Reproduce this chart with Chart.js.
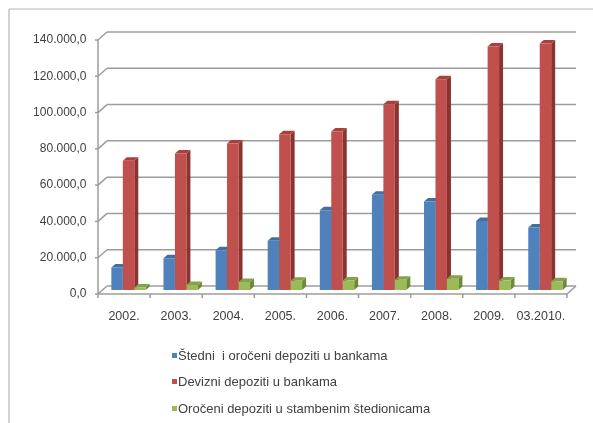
<!DOCTYPE html>
<html>
<head>
<meta charset="utf-8">
<script src="https://cdn.jsdelivr.net/npm/chart.js@4"></script>
<style>
  body { margin: 0; background: #fff; }
  #wrap { position: relative; width: 593px; height: 423px; }
  #legend { position: absolute; left: 172px; top: 343px; font: 13px "Liberation Sans", Arial, sans-serif; color: #404040; }
  #legend div { height: 26.3px; line-height: 26px; white-space: pre; }
  #legend span.sq { display: inline-block; width: 5px; height: 5px; margin-right: 1px; vertical-align: middle; position: relative; top: -1px; }
</style>
</head>
<body>
<div id="wrap">
  <canvas id="myChart" width="593" height="423"></canvas>
  <div id="legend"></div>
</div>
<script>
const categories = ["2002.", "2003.", "2004.", "2005.", "2006.", "2007.", "2008.", "2009.", "03.2010."];
const seriesNames = ["Štedni  i oročeni depoziti u bankama", "Devizni depoziti u bankama", "Oročeni depoziti u stambenim štedionicama"];
const stedni = [12400, 17500, 21900, 27100, 44000, 52500, 48800, 38100, 34400];
const devizni = [71200, 75200, 80800, 85900, 87400, 102400, 116200, 134200, 135900];
const stambeni = [1400, 2700, 4400, 5100, 5300, 5700, 6200, 5300, 4800];
const yMax = 140000;
const yStep = 20000;

const colors = ['#4f81bd', '#c0504d', '#9bbb59'];
const sideColors = ['#36598a', '#8a3331', '#6d8a38'];
const topColors = ['#41709f', '#a8403d', '#84a24a'];

// depth offsets for the fake 3d look
const DX = 4.5, DY = 4;

function fmt(v) {
  let s = Math.round(v).toString().replace(/\B(?=(\d{3})+(?!\d))/g, '.');
  return s + ',0';
}

function line(ctx, x1, y1, x2, y2) {
  ctx.beginPath(); ctx.moveTo(x1, y1); ctx.lineTo(x2, y2); ctx.stroke();
}

const threeD = {
  id: 'threeD',
  beforeDraw(chart) {
    const ctx = chart.ctx;
    ctx.save();
    ctx.strokeStyle = '#b4b4b4';
    ctx.lineWidth = 1.2;
    line(ctx, 9, 9, 593, 9);
    line(ctx, 9, 9, 9, 423);
    ctx.restore();
  },
  beforeDatasetsDraw(chart) {
    const ctx = chart.ctx, xs = chart.scales.x, ys = chart.scales.y, a = chart.chartArea;
    ctx.save();
    ctx.strokeStyle = '#9c9c9c';
    ctx.lineWidth = 1.5;
    ys.ticks.forEach(t => {
      const py = ys.getPixelForValue(t.value);
      line(ctx, a.left + DX, py - DY, a.right + DX, py - DY);
      line(ctx, a.left - DX, py + DY, a.left + DX, py - DY);
      line(ctx, a.left - DX - 3, py + DY, a.left - DX, py + DY);
    });
    line(ctx, a.left - DX, ys.getPixelForValue(yMax) + DY, a.left - DX, a.bottom + DY);
    line(ctx, a.left - DX, a.bottom + DY, a.right - DX, a.bottom + DY);
    line(ctx, a.right - DX, a.bottom + DY, a.right + DX, a.bottom - DY);
    const cw = (a.right - a.left) / categories.length;
    for (let i = 0; i <= categories.length; i++) {
      const bx = a.left + i * cw - DX;
      line(ctx, bx, a.bottom + DY, bx, a.bottom + DY + 4);
    }
    // side and top faces, front face is drawn by chart.js afterwards
    const d = 4, u = 3.5;
    chart.data.datasets.forEach((ds, di) => {
      const meta = chart.getDatasetMeta(di);
      meta.data.forEach(el => {
        const p = el.getProps(['x', 'y', 'base', 'width'], true);
        const l = p.x - p.width / 2, r = p.x + p.width / 2;
        ctx.fillStyle = sideColors[di];
        ctx.beginPath();
        ctx.moveTo(r, p.y); ctx.lineTo(r + d, p.y - u); ctx.lineTo(r + d, p.base - u); ctx.lineTo(r, p.base);
        ctx.closePath(); ctx.fill();
        ctx.fillStyle = topColors[di];
        ctx.beginPath();
        ctx.moveTo(l, p.y); ctx.lineTo(l + d, p.y - u); ctx.lineTo(r + d, p.y - u); ctx.lineTo(r, p.y);
        ctx.closePath(); ctx.fill();
      });
    });
    ctx.restore();
  }
};

const ctx = document.getElementById('myChart');
new Chart(ctx, {
  type: 'bar',
  data: {
    labels: categories,
    datasets: [
      { label: seriesNames[0], data: stedni, backgroundColor: colors[0] },
      { label: seriesNames[1], data: devizni, backgroundColor: colors[1] },
      { label: seriesNames[2], data: stambeni, backgroundColor: colors[2] }
    ]
  },
  options: {
    responsive: false,
    animation: false,
    events: [],
    datasets: { bar: { categoryPercentage: 0.66, barPercentage: 1 } },
    layout: { padding: { left: 0, top: 36, right: 21.5, bottom: 0 } },
    plugins: { legend: { display: false }, tooltip: { enabled: false } },
    scales: {
      x: {
        grid: { display: false, drawTicks: false },
        border: { display: false },
        ticks: { color: '#404040', font: { family: 'Liberation Sans', size: 12.5 }, padding: 19, labelOffset: -4.5, maxRotation: 0, autoSkip: false },
        afterFit(scale) { scale.height = 133; }
      },
      y: {
        min: 0, max: yMax,
        grid: { display: false, drawTicks: false },
        border: { display: false },
        ticks: { stepSize: yStep, color: '#404040', font: { family: 'Liberation Sans', size: 12 }, padding: 16, labelOffset: 4, callback: v => fmt(v) },
        afterFit(scale) { scale.width = 102.5; }
      }
    }
  },
  plugins: [threeD]
});

let lg = document.getElementById('legend');
seriesNames.forEach((n, i) => {
  lg.innerHTML += '<div><span class="sq" style="background:' + colors[i] + '"></span>' + n + '</div>';
});
</script>
</body>
</html>
